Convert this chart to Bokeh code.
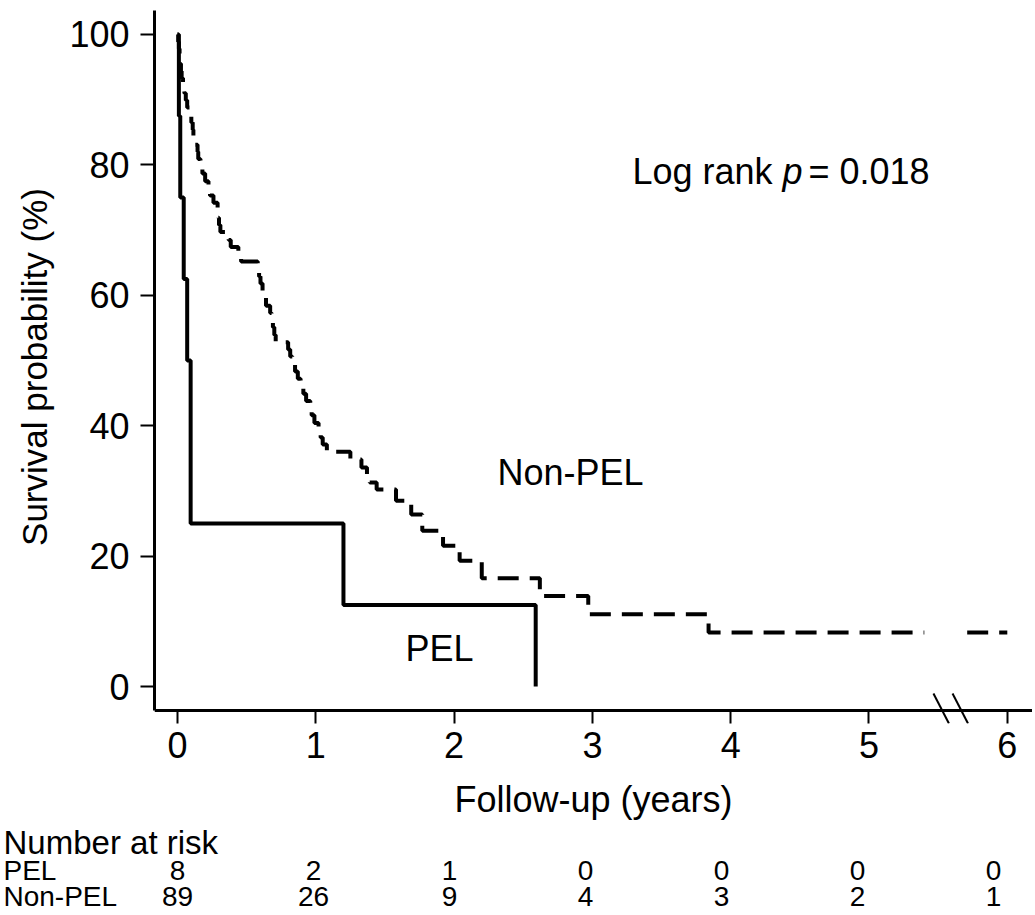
from bokeh.plotting import figure
from bokeh.layouts import column
from bokeh.models import Range1d, FixedTicker, Label, Span
from bokeh.core.properties import value
from bokeh.embed import file_html
from bokeh.resources import INLINE

# ---------------- data ----------------
years = [0, 1, 2, 3, 4, 5, 6]
pel_at_risk = [8, 2, 1, 0, 0, 0, 0]
nonpel_at_risk = [89, 26, 9, 4, 3, 2, 1]
row_names = ["PEL", "Non-PEL"]

pel_t = [0, 0.01, 0.02, 0.045, 0.07, 0.095, 1.2, 2.59]
pel_s = [100, 87.5, 75, 62.5, 50, 25, 12.5, 0]

nonpel_t = [0, 0.005, 0.01, 0.015, 0.02, 0.025, 0.03, 0.04, 0.05, 0.06, 0.07,
            0.094, 0.1, 0.11, 0.115, 0.125, 0.145, 0.15, 0.166, 0.18, 0.2,
            0.224, 0.235, 0.26, 0.29, 0.295, 0.3, 0.31, 0.37, 0.385, 0.44, 0.46,
            0.58, 0.59, 0.6, 0.615, 0.625, 0.64, 0.67, 0.68, 0.69, 0.7, 0.71,
            0.8, 0.815, 0.83, 0.85, 0.87, 0.89, 0.91, 0.93, 0.96, 0.97, 0.99,
            1.02, 1.035, 1.05, 1.08, 1.25, 1.33, 1.37, 1.39, 1.44, 1.58, 1.69,
            1.77, 1.92, 2.04, 2.2, 2.62, 2.97, 3.84, 5.40]
nonpel_s = [100, 98.9, 97.8, 96.6, 95.5, 94.4, 93.3, 92.1, 91.0, 89.9, 88.8,
            87.6, 86.5, 85.4, 84.3, 83.1, 82.0, 80.9, 79.8, 78.7, 77.5,
            76.4, 75.3, 74.2, 73.0, 71.9, 70.8, 69.7, 68.5, 67.4, 66.3, 65.2,
            64.0, 62.9, 61.8, 60.7, 59.6, 58.4, 57.3, 56.2, 55.1, 53.9, 52.8,
            51.7, 50.6, 49.4, 48.3, 47.2, 46.1, 44.9, 43.8, 42.7, 41.6, 40.4,
            39.3, 38.2, 37.1, 36.0, 34.8, 33.6, 32.4, 31.3, 30.2, 28.5, 26.4,
            23.9, 21.6, 19.3, 16.6, 13.9, 11.1, 8.3, 8.3]
# segment drawn after the axis break (x = 6 stands for the last follow-up)
after_break_t = [5.71, 6.0]
after_break_s = [8.3, 8.3]

x_ticks = [0, 1, 2, 3, 4, 5, 6]
y_ticks = [0, 20, 40, 60, 80, 100]

# axis break (years) and where the x axis crosses the y scale
BREAK_X = [5.466, 5.604]
BREAK_W = 0.112
AXIS_Y = -3.68

FONT = "Liberation Sans"
W = 1032
MAIN_H = 822

# ---------------- main figure ----------------
X0, X1 = -0.1663, -0.1663 + (W - 154) / 138.3
p = figure(width=W, height=MAIN_H, output_backend="svg", toolbar_location=None,
           x_range=Range1d(X0, X1), y_range=Range1d(-5.67, 103.68),
           min_border_left=154, min_border_right=0, min_border_top=10,
           min_border_bottom=MAIN_H - 723)
p.frame_align = False
p.outline_line_color = None
p.grid.visible = False
p.background_fill_color = "white"
p.border_fill_color = "white"

for ax in (p.xaxis[0], p.yaxis[0]):
    ax.axis_line_width = 3
    ax.axis_line_color = "black"
    ax.major_tick_line_width = 2
    ax.major_tick_line_color = "black"
    ax.minor_tick_line_color = None
    ax.major_label_text_font = FONT
    ax.major_label_text_font_size = "36px"
    ax.major_label_text_color = "black"
    ax.axis_label_text_font = FONT
    ax.axis_label_text_font_size = "36px"
    ax.axis_label_text_font_style = "normal"
    ax.axis_label_text_color = "black"

xa, ya = p.xaxis[0], p.yaxis[0]
xa.ticker = FixedTicker(ticks=x_ticks)
ya.ticker = FixedTicker(ticks=y_ticks)
xa.axis_label = "Follow-up (years)"
ya.axis_label = "Survival probability (%)"
ya.axis_label_text_font_size = "35px"
# x axis line is drawn a little above the frame edge so the break marks fit
xa.axis_line_color = None
xa.major_tick_in = 13
xa.major_tick_out = 0
xa.major_label_standoff = 8
xa.axis_label_standoff = 18
ya.major_tick_in = 0
ya.major_tick_out = 14
ya.major_label_standoff = 11
ya.axis_label_standoff = 12
ya.bounds = (AXIS_Y, 103.68)
p.add_layout(Span(location=AXIS_Y, dimension="width", line_color="black",
                  line_width=3))

# curves
p.step(nonpel_t, nonpel_s, mode="after", line_color="black", line_width=4,
       line_dash="21 11")
p.line(after_break_t, after_break_s, line_color="black", line_width=4,
       line_dash="21 11")
p.step(pel_t, pel_s, mode="after", line_color="black", line_width=4)

# axis break marks
p.segment(x0=BREAK_X, y0=[-1.07] * 2, x1=[b + BREAK_W for b in BREAK_X],
          y1=[-5.67] * 2, line_color="black", line_width=2)

def lab(x, y, text, style="normal", x_offset=0):
    p.add_layout(Label(x=x, y=y, text=text, text_font=FONT, text_font_size="36px",
                       text_font_style=style, text_color="black",
                       text_baseline="middle", x_offset=x_offset))

lab(3.29, 79.06, "Log rank")
lab(3.29, 79.06, "p", style="italic", x_offset=150)
lab(3.29, 79.06, "= 0.018", x_offset=176)
lab(2.314, 32.75, "Non-PEL")
lab(1.649, 5.9, "PEL")

# ---------------- number-at-risk table ----------------
TW_H = 912 - MAIN_H
T0, TPX = 177, 136.0   # pixel of year 0 and pixels per year in the table
t = figure(width=W, height=TW_H, output_backend="svg", toolbar_location=None,
           x_range=Range1d(-T0 / TPX, (W - T0) / TPX), y_range=Range1d(TW_H, 0),
           min_border=0, x_axis_type=None, y_axis_type=None)
t.frame_align = False
t.outline_line_color = None
t.grid.visible = False
t.background_fill_color = "white"
t.border_fill_color = "white"

left_x = (3 - T0) / TPX
head_y, row_y = 20, [48, 74]
t.text(x=[left_x], y=[head_y], text=["Number at risk"], text_font=value(FONT),
       text_font_size=value("33px"), text_color="black",
       text_baseline="middle", text_align="left")
t.text(x=[left_x] * 2, y=row_y, text=row_names, text_font=value(FONT),
       text_font_size=value("28px"), text_color="black",
       text_baseline="middle", text_align="left")
for counts, yy in zip([pel_at_risk, nonpel_at_risk], row_y):
    t.text(x=years, y=[yy] * len(years), text=[str(c) for c in counts],
           text_font=value(FONT), text_font_size=value("28px"),
           text_color="black", text_baseline="middle", text_align="center")

layout = column(p, t, spacing=0)
open("out.html", "w").write(file_html(layout, INLINE))
